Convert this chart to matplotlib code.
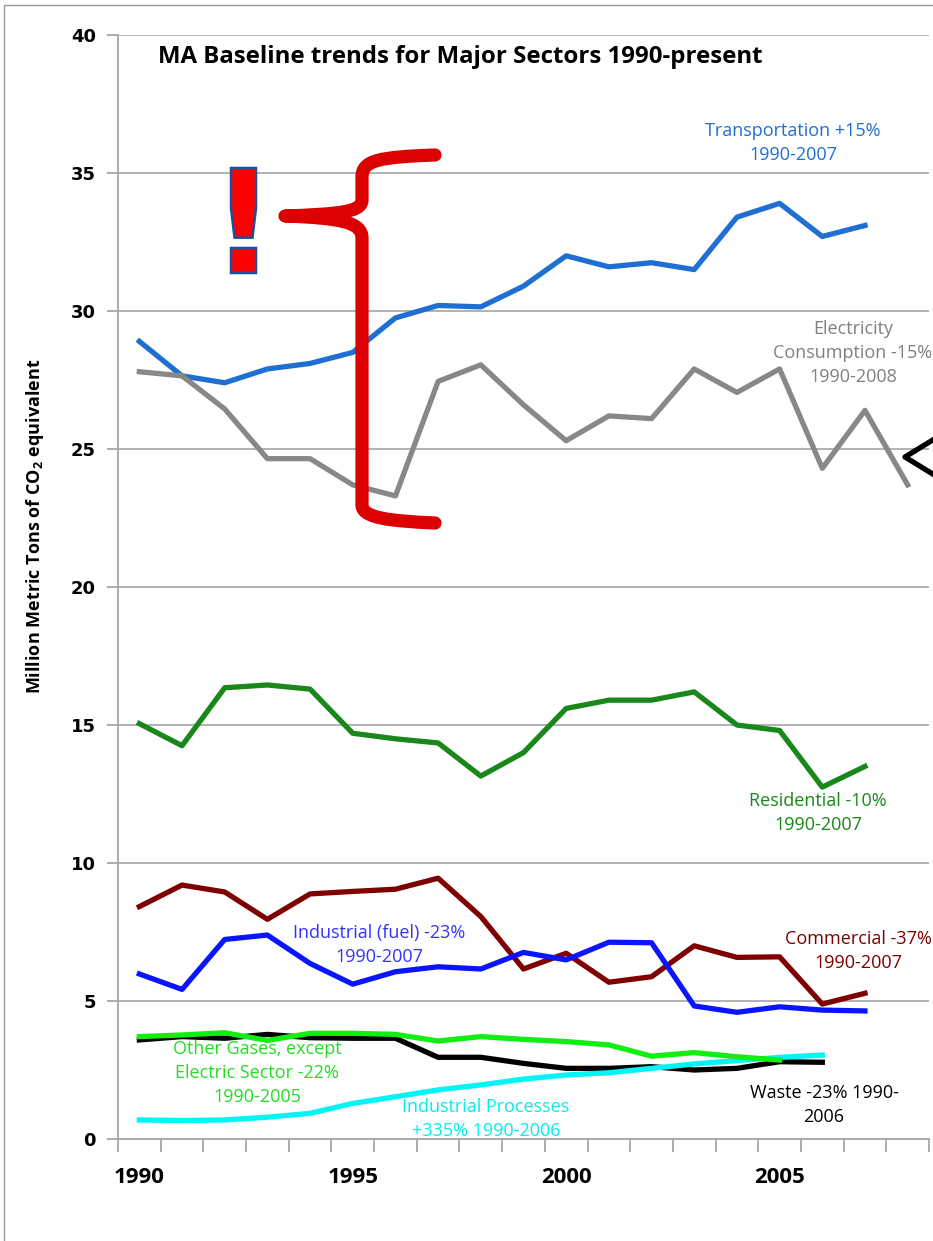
"""
MA baseline emission trends for major sectors, 1990-present.
"""

import matplotlib

matplotlib.use("Agg")
import matplotlib.pyplot as plt
from matplotlib import font_manager
from matplotlib.patches import PathPatch, Rectangle
from matplotlib.path import Path
from matplotlib.textpath import TextPath
from matplotlib.transforms import Affine2D

YEARS = list(range(1990, 2009))

transportation = [28.9, 27.65, 27.4, 27.9, 28.1, 28.5, 29.75, 30.2, 30.15, 30.9,
                  32.0, 31.6, 31.75, 31.5, 33.4, 33.9, 32.7, 33.1]
electricity = [27.8, 27.65, 26.45, 24.65, 24.65, 23.7, 23.3, 27.45, 28.05, 26.6,
               25.3, 26.2, 26.1, 27.9, 27.05, 27.9, 24.3, 26.4, 23.7]
residential = [15.05, 14.25, 16.35, 16.45, 16.3, 14.7, 14.5, 14.35, 13.15, 14.0,
               15.6, 15.9, 15.9, 16.2, 15.0, 14.8, 12.75, 13.5]
commercial = [8.42, 9.2, 8.95, 7.96, 8.88, 8.97, 9.05, 9.45, 8.06, 6.16,
              6.73, 5.68, 5.88, 7.0, 6.58, 6.6, 4.89, 5.28]
industrial_fuel = [5.98, 5.42, 7.23, 7.39, 6.36, 5.61, 6.06, 6.24, 6.16, 6.76,
                   6.49, 7.13, 7.11, 4.82, 4.59, 4.79, 4.67, 4.64]
other_gases = [3.71, 3.77, 3.85, 3.57, 3.83, 3.83, 3.79, 3.55, 3.71, 3.61,
               3.53, 3.41, 3.0, 3.13, 2.98, 2.86]
waste = [3.59, 3.71, 3.65, 3.79, 3.67, 3.65, 3.65, 2.96, 2.96, 2.74,
         2.56, 2.56, 2.62, 2.5, 2.56, 2.8, 2.78]
industrial_processes = [0.69, 0.67, 0.69, 0.79, 0.93, 1.29, 1.53, 1.78, 1.96, 2.17,
                        2.32, 2.40, 2.56, 2.72, 2.84, 2.96, 3.04]

Y_TICKS = [0, 5, 10, 15, 20, 25, 30, 35, 40]
X_LABEL_YEARS = [1990, 1995, 2000, 2005]

W, H = 933, 1241


def _pick_font(candidates):
    names = {f.name for f in font_manager.fontManager.ttflist}
    for name in candidates:
        if name in names:
            return name
    return "DejaVu Sans"


NARROW = _pick_font(["Liberation Sans Narrow", "Open Sans", "Roboto"])


def px(x, y):
    # pixel position (top-left origin) -> figure fraction
    return x / W, 1 - y / H


def main():
    plt.rcParams["mathtext.default"] = "regular"
    fig = plt.figure(figsize=(W / 100, H / 100), dpi=100)
    ax = fig.add_axes([118 / W, 1 - 1139 / H, (929 - 118) / W, (1139 - 35) / H])

    idx = {y: i for i, y in enumerate(YEARS)}

    def xs(series):
        return list(range(len(series)))

    lw = 3.8
    ax.plot(xs(transportation), transportation, color="#1f6fd2", lw=lw, zorder=3)
    ax.plot(xs(electricity), electricity, color="#888888", lw=lw, zorder=3)
    ax.plot(xs(residential), residential, color="#1a871a", lw=lw, zorder=3)
    ax.plot(xs(commercial), commercial, color="#7f0000", lw=lw, zorder=3)
    ax.plot(xs(industrial_fuel), industrial_fuel, color="#0a14ff", lw=lw, zorder=3)
    ax.plot(xs(waste), waste, color="black", lw=lw, zorder=3)
    ax.plot(xs(industrial_processes), industrial_processes, color="#00f5f5", lw=lw, zorder=3)
    ax.plot(xs(other_gases), other_gases, color="#11ee11", lw=lw, zorder=3)

    ax.set_xlim(-0.5, len(YEARS) - 0.5)
    ax.set_ylim(0, 40)

    for s in ("top", "right"):
        ax.spines[s].set_visible(False)
    for s in ("left", "bottom"):
        ax.spines[s].set_color("#a6a6a6")
        ax.spines[s].set_linewidth(1.3)

    ax.set_yticks(Y_TICKS)
    ax.set_yticklabels([str(v) for v in Y_TICKS], fontsize=13, fontweight="bold",
                       family="DejaVu Sans")
    ax.tick_params(axis="y", length=8, width=1.3, color="#a6a6a6", pad=8)
    ax.grid(axis="y", color="#ababab", lw=1.3)
    ax.set_axisbelow(True)

    boundaries = [i - 0.5 for i in range(len(YEARS) + 1)]
    ax.set_xticks(boundaries)
    ax.set_xticklabels([""] * len(boundaries))
    ax.tick_params(axis="x", which="major", length=9, width=1.3, color="#a6a6a6")
    ax.set_xticks([idx[y] for y in X_LABEL_YEARS], minor=True)
    ax.set_xticklabels([str(y) for y in X_LABEL_YEARS], minor=True, fontsize=16,
                       fontweight="bold", family=NARROW)
    ax.tick_params(axis="x", which="minor", length=0, pad=20)

    fig.text(*px(35, 526), "Million Metric Tons of CO$_2$ equivalent", rotation=90,
             fontsize=13, fontweight="bold", family=NARROW, ha="center", va="center")

    fig.text(*px(158, 57), "MA Baseline trends for Major Sectors 1990-present",
             fontsize=17.3, fontweight="bold", family=NARROW, ha="left", va="center")

    def label(x, y, txt, color):
        fig.text(*px(x, y), txt, color=color, fontsize=13, family=NARROW,
                 ha="center", va="center", linespacing=1.45)

    label(793, 143, "Transportation +15%\n1990-2007", "#1f6fd2")
    label(853, 353, "Electricity\nConsumption -15%\n1990-2008", "#808080")
    label(818, 813, "Residential -10%\n1990-2007", "#1a871a")
    label(858, 951, "Commercial -37%\n1990-2007", "#7f0000")
    label(379, 945, "Industrial (fuel) -23%\n1990-2007", "#3333ff")
    label(257, 1073, "Other Gases, except\nElectric Sector -22%\n1990-2005", "#22dd22")
    label(486, 1119, "Industrial Processes\n+335% 1990-2006", "#00eeee")
    label(824, 1105, "Waste -23% 1990-\n2006", "black")

    # pixel-space transform for the overlaid callout shapes
    pix = Affine2D().scale(1 / W, -1 / H).translate(0, 1) + fig.transFigure

    verts = [
        (435, 155), (380, 157), (362, 160), (362, 177),
        (362, 200),
        (362, 212), (340, 214), (285, 216),
        (340, 218), (362, 222), (362, 238),
        (362, 505),
        (362, 518), (390, 521), (435, 523),
    ]
    codes = [Path.MOVETO, Path.CURVE4, Path.CURVE4, Path.CURVE4,
             Path.LINETO,
             Path.CURVE4, Path.CURVE4, Path.CURVE4,
             Path.CURVE4, Path.CURVE4, Path.CURVE4,
             Path.LINETO,
             Path.CURVE4, Path.CURVE4, Path.CURVE4]
    fig.patches.append(PathPatch(Path(verts, codes), transform=pix, fill=False,
                                 edgecolor="#dd0000", lw=9.5, capstyle="round",
                                 joinstyle="round", zorder=10))

    # exclamation mark squeezed into its box
    tp = TextPath((0, 0), "!", size=100, prop=font_manager.FontProperties(
        family="DejaVu Sans", weight="bold"))
    bb = tp.get_extents()
    x0, x1, y0, y1 = 231, 256, 168, 273
    fit = Affine2D().translate(-bb.x0, -bb.y1).scale((x1 - x0) / bb.width,
                                                     -(y1 - y0) / bb.height).translate(x0, y0)
    fig.patches.append(PathPatch(tp, transform=fit + pix, facecolor="#ff0000",
                                 edgecolor="#1f4e9c", lw=1.8, zorder=10))

    fig.lines.append(plt.Line2D([936, 905, 936], [438, 457, 476], transform=pix,
                                color="black", lw=3.8, zorder=10))

    fig.patches.append(Rectangle((4, 5), W + 20, H + 20, transform=pix, fill=False,
                                 edgecolor="#9a9a9a", lw=1.0))

    fig.savefig("out.png", dpi=100)
    plt.close(fig)


if __name__ == "__main__":
    main()
